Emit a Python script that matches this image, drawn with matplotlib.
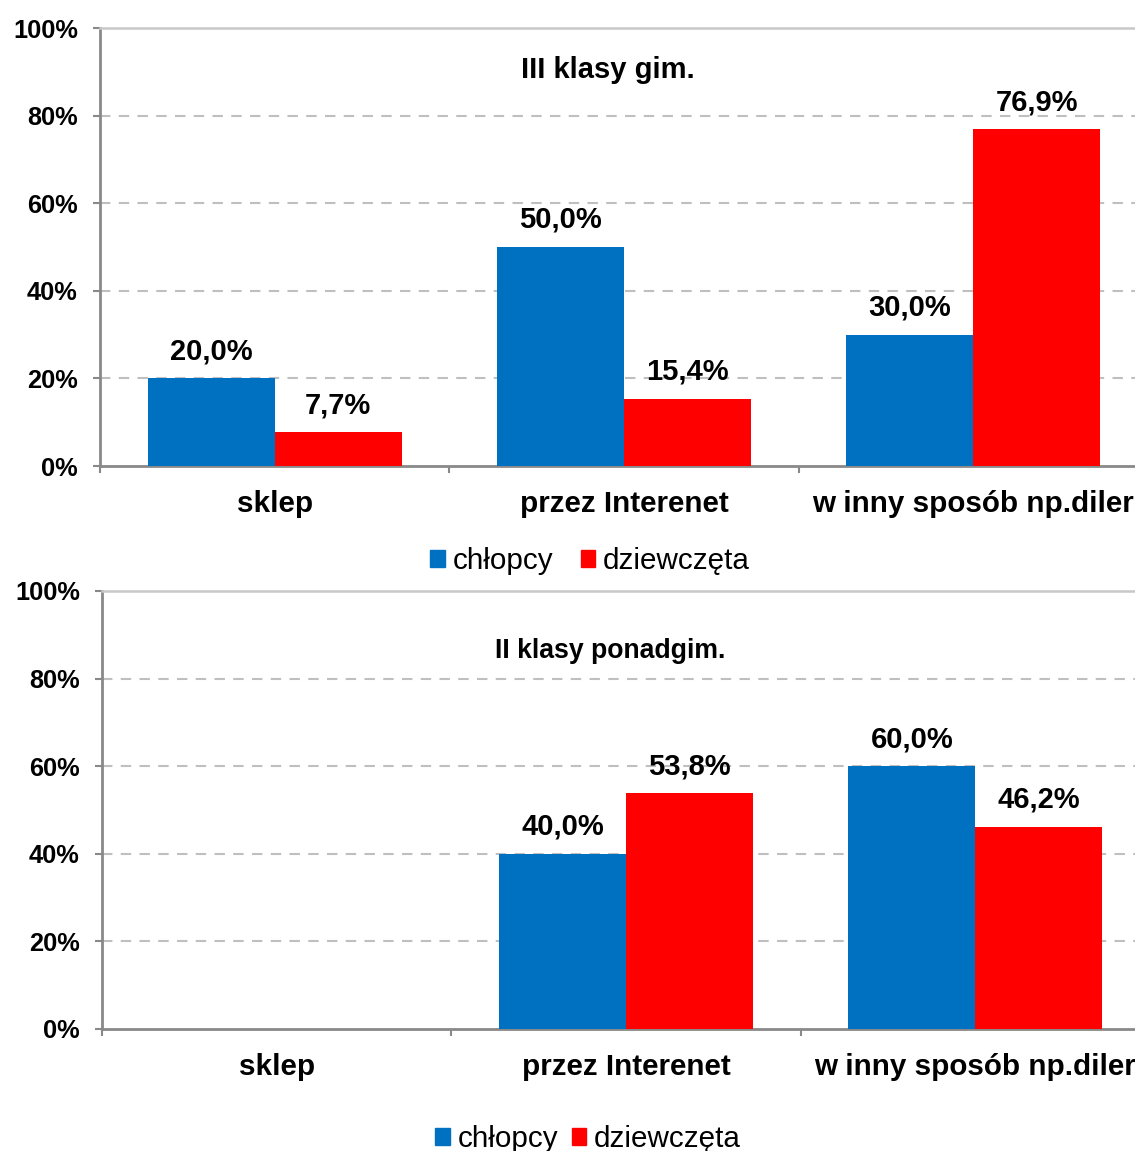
import matplotlib
matplotlib.use("Agg")
import matplotlib.pyplot as plt
import numpy as np
from matplotlib.patches import Patch

plt.rcParams['font.family'] = ['Liberation Sans', 'DejaVu Sans']

categories = ["sklep", "przez Interenet", "w inny sposób np.diler"]
series_names = ["chłopcy", "dziewczęta"]
top_title = "III klasy gim."
top_boys = [20.0, 50.0, 30.0]
top_girls = [7.7, 15.4, 76.9]
bottom_title = "II klasy ponadgim."
bottom_boys = [0.0, 40.0, 60.0]
bottom_girls = [0.0, 53.8, 46.2]
yticks = [0, 20, 40, 60, 80, 100]

BLUE = "#0070C0"
RED = "#FF0000"
W, H = 1135, 1151
fig = plt.figure(figsize=(W / 100, H / 100), dpi=100)

def panel(rect, boys, girls, title, title_y, title_size):
    ax = fig.add_axes(rect)
    x = np.arange(len(categories))
    bw = 0.364
    b1 = ax.bar(x - bw / 2, boys, bw, color=BLUE, zorder=3)
    b2 = ax.bar(x + bw / 2, girls, bw, color=RED, zorder=3)
    for bars, vals in ((b1, boys), (b2, girls)):
        for r, v in zip(bars, vals):
            if v == 0:
                continue
            ax.annotate(f"{v:.1f}%".replace(".", ","),
                        (r.get_x() + r.get_width() / 2, v),
                        xytext=(0, 19.5), textcoords="offset points",
                        ha="center", va="center", fontsize=21, fontweight="bold")
    ax.set_xlim(-0.5, len(categories) - 0.5)
    ax.set_ylim(0, 100)
    ax.set_yticks(yticks)
    ax.set_yticklabels([f"{t}%" for t in yticks], fontsize=18.3, fontweight="bold")
    ax.tick_params(axis="y", length=5, width=1.5, color="#898989", pad=11)
    ax.set_xticks(np.arange(-0.5, len(categories)))
    ax.set_xticklabels([])
    ax.tick_params(axis="x", which="major", length=5, width=1.5, color="#898989")
    ax.set_xticks(x, minor=True)
    ax.set_xticklabels(categories, minor=True, fontsize=21.3, fontweight="bold")
    ax.tick_params(axis="x", which="minor", length=0, pad=17.5)
    for t in yticks[1:-1]:
        ax.axhline(t, color="#BFBFBF", lw=1.5, ls=(0, (5, 4)), zorder=1)
    ax.spines["top"].set_color("#C8C8C8")
    ax.spines["top"].set_linewidth(1.8)
    ax.spines["right"].set_visible(False)
    for s in ("left", "bottom"):
        ax.spines[s].set_color("#898989")
        ax.spines[s].set_linewidth(2)
    ax.text(0.5 * (len(categories) - 1) - 0.045, title_y, title, ha="center", va="center",
            fontsize=title_size, fontweight="bold", transform=ax.get_xaxis_transform())
    return ax

aw = 1048 / W
ah = 438 / H
panel([100 / W, (H - 466) / H, aw, ah], top_boys, top_girls, top_title, 0.904, 21)
panel([102 / W, (H - 1029) / H, aw, ah], bottom_boys, bottom_girls, bottom_title, 0.863, 19.2)

handles = [Patch(color=BLUE), Patch(color=RED)]
for cy, cx, cs in ((561, 590, 0.93), (1139, 588, 0.45)):
    fig.legend(handles, series_names, loc="center", bbox_to_anchor=(cx / W, 1 - cy / H),
               ncol=2, frameon=False, fontsize=21.3, handlelength=0.5, handleheight=0.5,
               handletextpad=0.25, columnspacing=cs)

fig.savefig("out.png", dpi=100)
